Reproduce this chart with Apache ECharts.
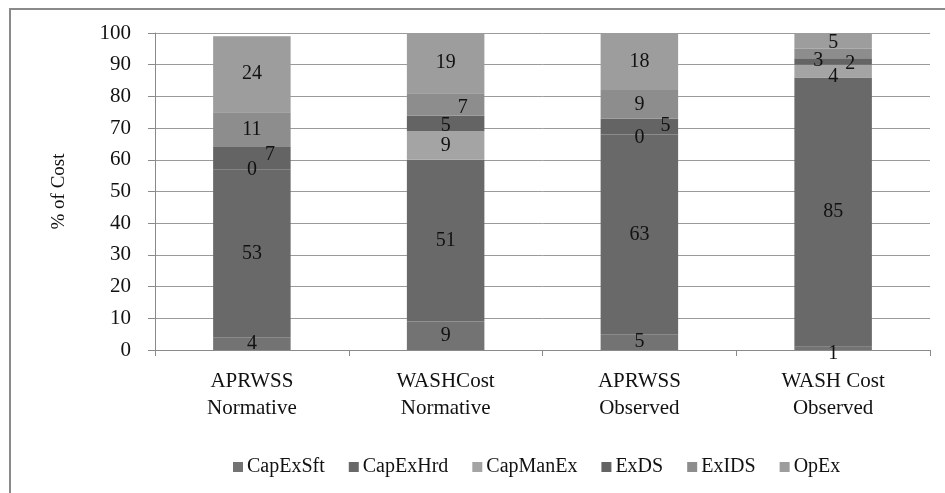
<!DOCTYPE html>
<html>
<head>
<meta charset="utf-8">
<script src="https://cdn.jsdelivr.net/npm/echarts@6/dist/echarts.min.js"></script>
<style>
  html, body { margin: 0; padding: 0; background: #fff; }
  #chart { width: 945px; height: 493px; }
</style>
</head>
<body>
<div id="chart"></div>
<script>
// Cost breakdown per costing approach (percent of total cost)
const categories = ['APRWSS\nNormative', 'WASHCost\nNormative', 'APRWSS\nObserved', 'WASH Cost\nObserved'];
const seriesNames = ['CapExSft', 'CapExHrd', 'CapManEx', 'ExDS', 'ExIDS', 'OpEx'];
const capExSft = [4, 9, 5, 1];
const capExHrd = [53, 51, 63, 85];
const capManEx = [0, 9, 0, 4];
const exDS = [7, 5, 5, 2];
const exIDS = [11, 7, 9, 3];
const opEx = [24, 19, 18, 5];
const yTicks = [0, 10, 20, 30, 40, 50, 60, 70, 80, 90, 100];

const seriesValues = [capExSft, capExHrd, capManEx, exDS, exIDS, opEx];
const seriesColors = ['#737373', '#696969', '#a4a4a4', '#646464', '#8d8d8d', '#9d9d9d'];

// Small label nudges so thin segments' values don't collide
const labelNudge = {
  '3|0': [18, -3],
  '4|1': [17, 3],
  '3|1': [0, 2],
  '2|2': [0, 3],
  '3|2': [26, -1],
  '2|3': [0, 6],
  '3|3': [17, 2],
  '4|3': [-15, 7],
  '5|3': [0, 2],
  '0|3': [0, 5]
};

const serif = 'Liberation Serif';

const series = seriesNames.map((name, si) => ({
  name: name,
  type: 'bar',
  stack: 'total',
  barWidth: '40%',
  itemStyle: { color: seriesColors[si] },
  label: {
    show: true,
    position: 'inside',
    color: '#111',
    fontFamily: serif,
    fontSize: 20
  },
  data: seriesValues[si].map((v, ci) => {
    const nudge = labelNudge[si + '|' + ci];
    return nudge ? { value: v, label: { offset: nudge } } : { value: v };
  })
}));

const chart = echarts.init(document.getElementById('chart'), null, { renderer: 'canvas' });
chart.setOption({
  animation: false,
  backgroundColor: '#fff',
  textStyle: { fontFamily: serif },
  graphic: [{
    type: 'rect',
    shape: { x: 10, y: 9, width: 960, height: 520 },
    style: { fill: 'none', stroke: '#8a8a8a', lineWidth: 2 },
    silent: true
  }],
  grid: { left: 155, right: 15, top: 33, bottom: 143, containLabel: false },
  legend: {
    top: 452,
    left: 228,
    itemWidth: 10,
    itemHeight: 10,
    itemGap: 24,
    icon: 'rect',
    textStyle: { fontFamily: serif, fontSize: 20, color: '#111', padding: [0, 0, 0, -1] },
    data: seriesNames
  },
  xAxis: {
    type: 'category',
    data: categories,
    axisLine: { lineStyle: { color: '#8a8a8a', width: 1 } },
    axisTick: { show: true, length: 6, lineStyle: { color: '#8a8a8a' } },
    axisLabel: { fontFamily: serif, fontSize: 21, color: '#111', lineHeight: 27, margin: 18 }
  },
  yAxis: {
    type: 'value',
    min: yTicks[0],
    max: yTicks[yTicks.length - 1],
    interval: 10,
    name: '% of Cost',
    nameLocation: 'middle',
    nameGap: 86,
    nameRotate: 90,
    nameTextStyle: { fontFamily: serif, fontSize: 19, color: '#111' },
    axisLine: { show: true, lineStyle: { color: '#8a8a8a' } },
    axisTick: { show: true, length: 7, lineStyle: { color: '#8a8a8a' } },
    axisLabel: { fontFamily: serif, fontSize: 21, color: '#111', margin: 24 },
    splitLine: { lineStyle: { color: '#9a9a9a', width: 1 } }
  },
  series: series
});
</script>
</body>
</html>
